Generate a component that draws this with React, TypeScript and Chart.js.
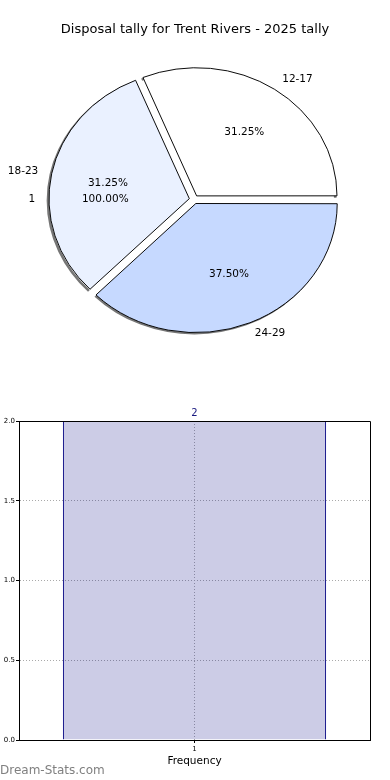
import React, { useEffect, useRef } from 'react';
import { Chart, registerables } from 'chart.js';

Chart.register(...registerables);

// ---------- data ----------
const TITLE = 'Disposal tally for Trent Rivers - 2025 tally';
const PIE_LABELS = ['12-17', '18-23', '24-29'];
const PIE_VALUES = [31.25, 31.25, 37.5];
const PIE_COLORS = ['#ffffff', '#eaf1ff', '#c6d9ff'];
const OUTER_LABELS = ['1'];
const OUTER_VALUES = [1];
const BAR_LABELS = ['1'];
const BAR_VALUES = [2];
const Y_TICKS = [0, 0.5, 1, 1.5, 2];
const X_TITLE = 'Frequency';
const WATERMARK = 'Dream-Stats.com';

// ---------- look ----------
const PIE_CX = 194;
const PIE_CY = 199.5;
const PIE_K = 0.913; // vertical squash of the pie
const PIE_R = 140;
const EXPLODE = 4.75; // px (Chart.js offset is divided by 4)
const FONT = '"DejaVu Sans", sans-serif';

const pieDeco = {
  id: 'pieDeco',
  beforeDatasetsDraw(chart: any) {
    const arcs = chart.getDatasetMeta(0).data as any[];
    const ctx = chart.ctx as CanvasRenderingContext2D;
    if (!arcs.length) return;
    const ex = arcs[0].x;
    const ey = arcs[0].y;
    // shadow along the rim
    ctx.save();
    ctx.translate(PIE_CX - 1.4, PIE_CY + 1.9);
    ctx.scale(1, PIE_K);
    ctx.translate(-ex, -ey);
    ctx.strokeStyle = 'rgba(60,60,60,0.7)';
    ctx.lineWidth = 2.6;
    arcs.forEach((a) => {
      const h = (a.startAngle + a.endAngle) / 2;
      ctx.beginPath();
      ctx.arc(a.x + Math.cos(h) * EXPLODE, a.y + Math.sin(h) * EXPLODE, a.outerRadius, a.startAngle, a.endAngle);
      ctx.stroke();
    });
    ctx.restore();
    // squash transform for the slices
    ctx.save();
    ctx.translate(PIE_CX, PIE_CY);
    ctx.scale(1, PIE_K);
    ctx.translate(-ex, -ey);
  },
  afterDatasetsDraw(chart: any) {
    const ctx = chart.ctx as CanvasRenderingContext2D;
    ctx.restore();
    const arcs = chart.getDatasetMeta(0).data as any[];
    if (!arcs.length) return;
    const labels = chart.data.labels as string[];
    const vals = chart.data.datasets[0].data as number[];
    const total = vals.reduce((s, v) => s + v, 0);
    ctx.save();
    ctx.font = `10.5px ${FONT}`;
    ctx.fillStyle = '#000';
    ctx.textBaseline = 'middle';
    const map = (a: any, dist: number) => {
      const h = (a.startAngle + a.endAngle) / 2;
      const d = EXPLODE + dist;
      return { x: PIE_CX + Math.cos(h) * d, y: PIE_CY + PIE_K * Math.sin(h) * d, c: Math.cos(h) };
    };
    arcs.forEach((a, i) => {
      const R = a.outerRadius;
      const p = map(a, 1.1 * R);
      ctx.textAlign = p.c > 0 ? 'left' : 'right';
      ctx.fillText(labels[i], p.x, p.y);
      const q = map(a, 0.6 * R);
      ctx.textAlign = 'center';
      ctx.fillText(((vals[i] / total) * 100).toFixed(2) + '%', q.x + 1, q.y);
    });
    // single-slice outer pie labels (starts east, counter-clockwise)
    const oTotal = OUTER_VALUES.reduce((s, v) => s + v, 0);
    let start = 0;
    const R = arcs[0].outerRadius;
    OUTER_VALUES.forEach((v, i) => {
      const frac = v / oTotal;
      const mid = (start + frac / 2) * Math.PI * 2; // math angle
      start += frac;
      const cx = Math.cos(mid);
      const sy = -Math.sin(mid);
      const d1 = EXPLODE + 1.1 * R;
      const d2 = EXPLODE + 0.6 * R;
      ctx.textAlign = cx > 0 ? 'left' : 'right';
      ctx.fillText(OUTER_LABELS[i], PIE_CX + cx * d1, PIE_CY + PIE_K * sy * d1);
      ctx.textAlign = 'center';
      ctx.fillText((frac * 100).toFixed(2) + '%', PIE_CX + cx * d2, PIE_CY + PIE_K * sy * d2);
    });
    ctx.restore();
  },
};

const barDeco = {
  id: 'barDeco',
  afterDatasetsDraw(chart: any) {
    const ctx = chart.ctx as CanvasRenderingContext2D;
    const { left, top, right, bottom } = chart.chartArea;
    ctx.save();
    ctx.strokeStyle = '#000';
    ctx.lineWidth = 1;
    ctx.beginPath();
    ctx.moveTo(Math.round(left), Math.round(top) + 0.5);
    ctx.lineTo(Math.round(right) + 0.5, Math.round(top) + 0.5);
    ctx.lineTo(Math.round(right) + 0.5, Math.round(bottom));
    ctx.stroke();
    const bars = chart.getDatasetMeta(0).data as any[];
    ctx.font = `10px ${FONT}`;
    ctx.fillStyle = '#1a1a80';
    ctx.textAlign = 'center';
    ctx.textBaseline = 'alphabetic';
    bars.forEach((b, i) => {
      ctx.fillText(String(BAR_VALUES[i]), b.x, b.y - 5);
    });
    ctx.restore();
  },
};

export default function App() {
  const pieRef = useRef<HTMLCanvasElement>(null);
  const barRef = useRef<HTMLCanvasElement>(null);

  useEffect(() => {
    const order = PIE_LABELS.map((_, i) => PIE_LABELS.length - 1 - i);
    const pie = new Chart(pieRef.current as HTMLCanvasElement, {
      type: 'pie',
      data: {
        labels: order.map((i) => PIE_LABELS[i]),
        datasets: [
          {
            data: order.map((i) => PIE_VALUES[i]),
            backgroundColor: order.map((i) => PIE_COLORS[i]),
            borderColor: '#000',
            borderWidth: 1,
            offset: EXPLODE * 4,
            hoverOffset: EXPLODE * 4,
            radius: PIE_R,
            clip: false,
          } as any,
        ],
      },
      options: {
        responsive: false,
        animation: false,
        devicePixelRatio: 1,
        rotation: 90,
        radius: PIE_R,
        events: [],
        plugins: {
          legend: { display: false },
          tooltip: { enabled: false },
          title: {
            display: true,
            text: TITLE,
            color: '#000',
            font: { family: FONT, size: 13, weight: 'normal' },
            padding: { top: 22, bottom: 0 },
          },
        },
      } as any,
      plugins: [pieDeco],
    });

    const bar = new Chart(barRef.current as HTMLCanvasElement, {
      type: 'bar',
      data: {
        labels: BAR_LABELS,
        datasets: [
          {
            data: BAR_VALUES,
            backgroundColor: 'rgba(0,0,128,0.2)',
            borderColor: '#000080',
            borderWidth: { top: 1, left: 1, right: 1, bottom: 0 },
            borderSkipped: 'bottom',
            categoryPercentage: 1,
            barPercentage: 0.75,
          } as any,
        ],
      },
      options: {
        responsive: false,
        animation: false,
        devicePixelRatio: 1,
        events: [],
        layout: { padding: { left: 0, right: 20, top: 31, bottom: 0 } },
        plugins: {
          legend: { display: false },
          tooltip: { enabled: false },
          title: { display: false },
        },
        scales: {
          x: {
            offset: true,
            grid: {
              offset: false,
              color: '#aaa',
              lineWidth: 1,
              tickLength: 3,
              tickColor: '#000',
              tickBorderDash: [],
            },
            border: { display: true, color: '#000', dash: [1, 2] },
            ticks: { color: '#000', font: { family: FONT, size: 7 }, padding: 2, maxRotation: 0 },
            title: {
              display: true,
              text: X_TITLE,
              color: '#000',
              font: { family: FONT, size: 10.5 },
              padding: { top: 0, bottom: 12 },
            },
            afterFit(s: any) {
              s.height = 40;
            },
          },
          y: {
            min: 0,
            max: 2,
            grid: {
              color: '#aaa',
              lineWidth: 1,
              tickLength: 3,
              tickColor: '#000',
              tickBorderDash: [],
            },
            border: { display: true, color: '#000', dash: [1, 2] },
            ticks: {
              color: '#000',
              font: { family: FONT, size: 7 },
              padding: 1,
              callback: (v: any) => Number(v).toFixed(1),
            },
            afterBuildTicks(s: any) {
              s.ticks = Y_TICKS.map((v) => ({ value: v }));
            },
            afterFit(s: any) {
              s.width = 19;
            },
          },
        },
      } as any,
      plugins: [barDeco],
    });

    return () => {
      pie.destroy();
      bar.destroy();
    };
  }, []);

  return (
    <div style={{ position: 'absolute', left: 0, top: 0, width: 390, height: 780, background: '#fff', overflow: 'hidden' }}>
      <canvas ref={pieRef} width={390} height={390} style={{ position: 'absolute', left: 0, top: 0 }} />
      <canvas ref={barRef} width={390} height={390} style={{ position: 'absolute', left: 0, top: 390 }} />
      <div
        style={{
          position: 'absolute',
          left: 0,
          top: 763,
          font: `12px ${FONT}`,
          lineHeight: '14px',
          color: '#808080',
          whiteSpace: 'nowrap',
        }}
      >
        {WATERMARK}
      </div>
    </div>
  );
}
